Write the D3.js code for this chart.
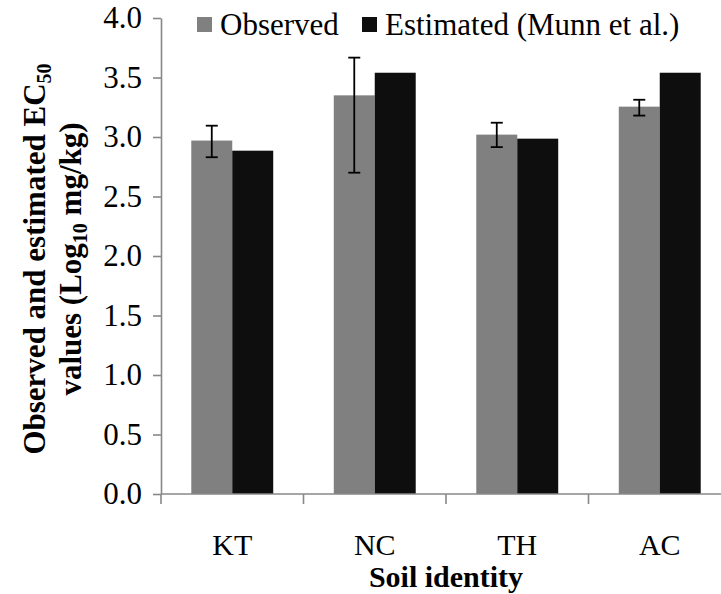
<!DOCTYPE html>
<html>
<head>
<meta charset="utf-8">
<script src="https://cdn.jsdelivr.net/npm/d3@7.9.0/dist/d3.min.js"></script>
<style>
  body { margin: 0; background: #fff; }
  svg { display: block; font-family: "Liberation Serif", "Times New Roman", serif; }
</style>
</head>
<body>
<svg width="721" height="594"></svg>
<script>
// soil categories and series
const soils = ['KT', 'NC', 'TH', 'AC'];
const series = ['Observed', 'Estimated (Munn et al.)'];
const observed = [2.97, 3.35, 3.02, 3.255];
const obsUpper = [3.095, 3.667, 3.12, 3.313];
const obsLower = [2.83, 2.70, 2.915, 3.18];
const estimated = [2.885, 3.54, 2.986, 3.54];
const yTicks = [0, 0.5, 1, 1.5, 2, 2.5, 3, 3.5, 4];

const colors = { 'Observed': '#808080', 'Estimated (Munn et al.)': '#0e0e0e' };
const fs = 31;

const svg = d3.select('svg');
const plotLeft = 161, plotTop = 18, plotBottom = 494;

const x = d3.scaleBand()
  .domain(soils)
  .range([plotLeft, plotLeft + 570])
  .paddingInner(0.425)
  .paddingOuter(0.2125);

const xs = d3.scaleBand().domain(series).range([0, x.bandwidth()]);

const y = d3.scaleLinear().domain([0, 4]).range([plotBottom, plotTop]);

// bars
const rows = soils.map((s, i) => ({ soil: s, vals: [observed[i], estimated[i]] }));
const groups = svg.selectAll('g.grp')
  .data(rows)
  .join('g')
  .attr('class', 'grp')
  .attr('transform', d => `translate(${x(d.soil)},0)`);

groups.selectAll('rect')
  .data(d => d.vals.map((v, j) => ({ key: series[j], value: v })))
  .join('rect')
  .attr('x', d => xs(d.key))
  .attr('width', xs.bandwidth())
  .attr('y', d => y(d.value))
  .attr('height', d => y(0) - y(d.value))
  .attr('fill', d => colors[d.key]);

// error bars on observed
const cap = 6;
soils.forEach((s, i) => {
  const cx = x(s) + xs(series[0]) + xs.bandwidth() / 2;
  const g = svg.append('g').attr('stroke', '#000').attr('stroke-width', 1.8);
  g.append('line').attr('x1', cx).attr('x2', cx).attr('y1', y(obsUpper[i])).attr('y2', y(obsLower[i]));
  g.append('line').attr('x1', cx - cap).attr('x2', cx + cap).attr('y1', y(obsUpper[i])).attr('y2', y(obsUpper[i]));
  g.append('line').attr('x1', cx - cap).attr('x2', cx + cap).attr('y1', y(obsLower[i])).attr('y2', y(obsLower[i]));
});

// y axis
const yAxis = svg.append('g')
  .attr('transform', `translate(${plotLeft},0)`)
  .call(d3.axisLeft(y).tickValues(yTicks).tickFormat(d3.format('.1f')).tickSize(8).tickSizeOuter(0));
yAxis.select('.domain').attr('stroke', '#888').attr('stroke-width', 1.6);
yAxis.selectAll('.tick line').attr('stroke', '#888').attr('stroke-width', 1.6);
yAxis.selectAll('.tick text')
  .attr('x', -19)
  .attr('font-family', 'Liberation Serif')
  .attr('font-size', fs)
  .attr('fill', '#000');

// x axis
const step = x.step();
const xEdge = d3.range(soils.length + 1).map(i => plotLeft + i * step);
svg.append('line')
  .attr('x1', plotLeft).attr('x2', plotLeft + soils.length * step)
  .attr('y1', plotBottom).attr('y2', plotBottom)
  .attr('stroke', '#888').attr('stroke-width', 1.6);
svg.selectAll('line.xt')
  .data(xEdge)
  .join('line')
  .attr('class', 'xt')
  .attr('x1', d => d).attr('x2', d => d)
  .attr('y1', plotBottom).attr('y2', plotBottom + 10)
  .attr('stroke', '#888').attr('stroke-width', 1.6);

svg.selectAll('text.xl')
  .data(soils)
  .join('text')
  .attr('class', 'xl')
  .attr('x', d => x(d) + x.bandwidth() / 2)
  .attr('y', 555)
  .attr('text-anchor', 'middle')
  .attr('font-size', 30)
  .text(d => d);

svg.append('text')
  .attr('x', 446).attr('y', 587)
  .attr('text-anchor', 'middle')
  .attr('font-size', 30)
  .attr('font-weight', 'bold')
  .text('Soil identity');

// y title (two lines, rotated)
const yt = svg.append('g').attr('transform', 'translate(0,259) rotate(-90)');
const l1 = yt.append('text')
  .attr('x', 0).attr('y', 45)
  .attr('text-anchor', 'middle')
  .attr('font-size', fs)
  .attr('font-weight', 'bold');
l1.append('tspan').text('Observed and estimated EC');
l1.append('tspan').attr('font-size', 20).attr('dy', 6).text('50');

const l2 = yt.append('text')
  .attr('x', 0).attr('y', 81)
  .attr('text-anchor', 'middle')
  .attr('font-size', fs)
  .attr('font-weight', 'bold');
l2.append('tspan').text('values (Log');
l2.append('tspan').attr('font-size', 20).attr('dy', 6).text('10');
l2.append('tspan').attr('dy', -6).text(' mg/kg)');

// legend
const legX = [197, 362];
const leg = svg.selectAll('g.leg')
  .data(series)
  .join('g')
  .attr('class', 'leg')
  .attr('transform', (d, i) => `translate(${legX[i]},0)`);
leg.append('rect')
  .attr('x', 0).attr('y', 17)
  .attr('width', 15).attr('height', 15)
  .attr('fill', d => colors[d]);
leg.append('text')
  .attr('x', 23).attr('y', 35)
  .attr('font-size', fs)
  .text(d => d);
</script>
</body>
</html>
